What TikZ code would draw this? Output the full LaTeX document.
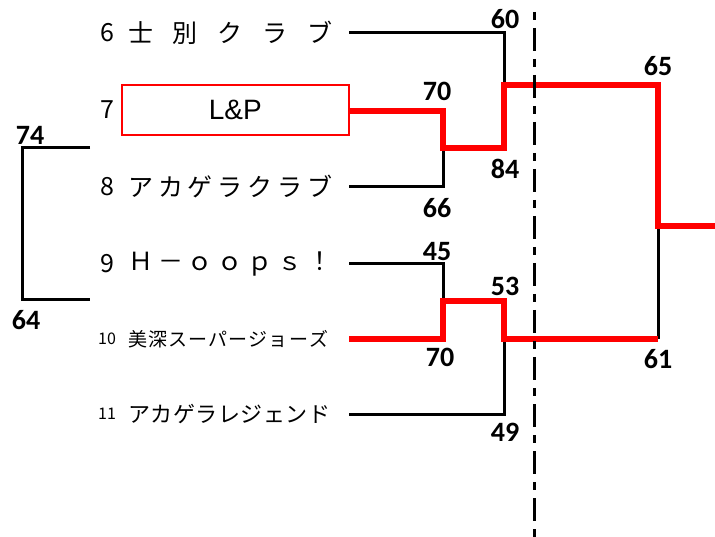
\documentclass[tikz,border=0pt]{standalone}
\usepackage{fontspec}
\newfontfamily\jpfont{Noto Sans CJK JP}
\newfontfamily\scorefont{Carlito}
\newfontfamily\lpfont{Liberation Sans}
\newcommand\distbox[1]{\makebox[204pt][s]{#1}}
\begin{document}
\begin{tikzpicture}[x=1pt,y=-1pt,
  blk/.style={line width=3pt,black,line join=miter},
  win/.style={line width=6pt,red,line join=miter},
  score/.style={font=\scorefont\bfseries\fontsize{28}{28}\selectfont,inner sep=0pt},
  teamname/.style={font=\jpfont\fontsize{25}{25}\selectfont,inner sep=0pt,anchor=west},
  midname/.style={font=\jpfont\fontsize{22}{22}\selectfont,inner sep=0pt,anchor=west},
  smallname/.style={font=\jpfont\fontsize{19}{19}\selectfont,inner sep=0pt,anchor=west},
  bignum/.style={font=\jpfont\fontsize{25}{25}\selectfont,inner sep=0pt},
  smallnum/.style={font=\jpfont\fontsize{16}{16}\selectfont,inner sep=0pt}]
\useasboundingbox (0,0) rectangle (715,537);

% team numbers
\node[bignum] (n6) at (107,33) {6};
\node[bignum] (n7) at (107,110) {7};
\node[bignum] (n8) at (107,187) {8};
\node[bignum] (n9) at (107,264) {9};
\node[smallnum] (n10) at (107,339) {10};
\node[smallnum] (n11) at (107,414) {11};

% team names
\node[teamname] (t6) at (128,33) {\distbox{士\hfill 別\hfill ク\hfill ラ\hfill ブ}};
\node[draw=red,line width=2.5pt,minimum width=227pt,minimum height=50pt,inner sep=0pt,
      font=\lpfont\fontsize{28}{28}\selectfont] (t7) at (235.25,110) {L\&P};
\node[teamname] (t8) at (128,187) {\distbox{ア\hfill カ\hfill ゲ\hfill ラ\hfill ク\hfill ラ\hfill ブ}};
\node[teamname] (t9) at (128,264) {\distbox{Ｈ\hfill －\hfill ｏ\hfill ｏ\hfill ｐ\hfill ｓ\hfill ！}};
\node[smallname] (t10) at (128,339) {\makebox[200pt][s]{美\hfill 深\hfill ス\hfill ー\hfill パ\hfill ー\hfill ジ\hfill ョ\hfill ー\hfill ズ}};
\node[midname] (t11) at (128,414) {\makebox[202pt][s]{ア\hfill カ\hfill ゲ\hfill ラ\hfill レ\hfill ジ\hfill ェ\hfill ン\hfill ド}};

% line starts and junctions
\coordinate (s6) at (349,33);
\coordinate (s8) at (349,187);
\coordinate (s9) at (349,264);
\coordinate (s10) at (349,339);
\coordinate (s11) at (349,414);
\coordinate (a6) at (504,33);
\coordinate (m1) at (443,111);
\coordinate (m2) at (443,148);
\coordinate (a8) at (443,187);
\coordinate (m3) at (504,148);
\coordinate (m4) at (504,85);
\coordinate (f1) at (658,85);
\coordinate (f2) at (658,226);
\coordinate (fin) at (715,226);
\coordinate (a9) at (443,264);
\coordinate (p1) at (443,339);
\coordinate (p2) at (443,301);
\coordinate (p3) at (504,301);
\coordinate (p4) at (504,339);
\coordinate (f3) at (658,339);
\coordinate (a11) at (504,414);
\coordinate (b1) at (90,148);
\coordinate (b2) at (22,148);
\coordinate (b3) at (22,300);
\coordinate (b4) at (90,300);
\coordinate (d1) at (534,12);
\coordinate (d2) at (534,537);

% black connectors
\draw[blk] (s6) -- (a6) -- (m4);
\draw[blk] (s8) -- (a8) -- (m2);
\draw[blk] (s9) -- (a9) -- (p2);
\draw[blk] (s11) -- (a11) -- (p4);
\draw[blk] (f2) -- (f3);
\draw[blk] (b1) -- (b2) -- (b3) -- (b4);

% winner paths
\draw[win] (t7.east |- m1) -- (m1) -- (m2) -- (m3) -- (m4) -- (f1) -- (f2) -- (fin);
\draw[win] (s10) -- (p1) -- (p2) -- (p3) -- (p4) -- (f3);

% dash-dot divider
\draw[line width=3pt,dash pattern=on 8pt off 8pt on 23pt off 8pt] (d1) -- (d2);

% scores
\node[score] (sc60) at (505,19) {60};
\node[score] (sc65) at (658,66) {65};
\node[score] (sc70a) at (437,91) {70};
\node[score] (sc84) at (505,169) {84};
\node[score] (sc66) at (437,208) {66};
\node[score] (sc45) at (437,252) {45};
\node[score] (sc53) at (505,286) {53};
\node[score] (sc70b) at (440,357) {70};
\node[score] (sc61) at (658,359) {61};
\node[score] (sc49) at (505,432) {49};
\node[score] (sc74) at (30,135) {74};
\node[score] (sc64) at (26,320) {64};
\end{tikzpicture}
\end{document}
